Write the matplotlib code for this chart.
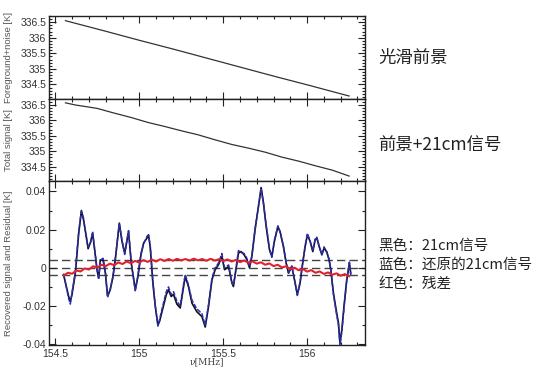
import matplotlib
matplotlib.use("Agg")
import matplotlib.pyplot as plt
from matplotlib.ticker import MultipleLocator

# ---------------- data ----------------
fg_freq = [154.56, 154.8, 155.0, 155.2, 155.4, 155.6, 155.8, 156.0, 156.25]
fg_vals = [336.55, 336.21, 335.92, 335.64, 335.35, 335.06, 334.77, 334.49, 334.13]

total_freq = [154.56, 154.62, 154.68, 154.75, 154.85, 154.95, 155.05, 155.15, 155.25,
              155.35, 155.45, 155.55, 155.65, 155.75, 155.85, 155.95, 156.05, 156.15, 156.25]
total_vals = [336.56, 336.49, 336.44, 336.38, 336.23, 336.09, 335.93, 335.80, 335.66,
              335.53, 335.37, 335.22, 335.10, 334.97, 334.81, 334.68, 334.53, 334.39, 334.20]

sig_freq = [154.549, 154.579, 154.589, 154.599, 154.619, 154.639, 154.655, 154.668, 154.685, 154.695,
            154.708, 154.722, 154.734, 154.748, 154.758, 154.768, 154.784, 154.798, 154.811, 154.827,
            154.843, 154.857, 154.881, 154.897, 154.913, 154.936, 154.952, 154.976, 154.992, 155.010,
            155.026, 155.046, 155.055, 155.065, 155.081, 155.095, 155.111, 155.121, 155.141, 155.161,
            155.174, 155.190, 155.204, 155.224, 155.244, 155.264, 155.274, 155.293, 155.314, 155.343,
            155.373, 155.393, 155.413, 155.433, 155.452, 155.472, 155.492, 155.508, 155.532, 155.552,
            155.561, 155.576, 155.591, 155.607, 155.625, 155.641, 155.657, 155.671, 155.690, 155.710,
            155.726, 155.740, 155.756, 155.776, 155.790, 155.805, 155.826, 155.839, 155.859, 155.875,
            155.889, 155.909, 155.929, 155.942, 155.958, 155.974, 155.988, 156.002, 156.018, 156.034,
            156.048, 156.058, 156.073, 156.088, 156.101, 156.117, 156.131, 156.141, 156.157, 156.173,
            156.187, 156.196, 156.207, 156.220, 156.236, 156.252, 156.260]
sig_vals = [-0.0037, -0.015, -0.0177, -0.014, -0.0028, 0.018, 0.030, 0.025, 0.016, 0.010,
            0.013, 0.018, 0.0094, -0.001, -0.0054, 0.0042, 0.0042, -0.0028, -0.0147, -0.0115,
            -0.0045, 0.0042, 0.0234, 0.0138, 0.0077, 0.019, 0.0025, -0.0115, -0.0045, 0.0068,
            0.013, 0.0156, 0.0173, 0.011, -0.008, -0.020, -0.030, -0.028, -0.021, -0.014,
            -0.0115, -0.015, -0.014, -0.019, -0.021, -0.0098, -0.0045, -0.0098, -0.0185, -0.023,
            -0.0255, -0.031, -0.020, -0.0063, -0.001, 0.0016, 0.006, -0.001, 0.0007, -0.008,
            -0.0098, -0.001, 0.0077, 0.0085, 0.0068, 0.0042, 0.0, 0.006, 0.020, 0.032,
            0.042, 0.034, 0.0216, 0.0094, 0.006, 0.0138, 0.0216, 0.019, 0.011, 0.0025,
            -0.0028, 0.0007, -0.008, -0.014, -0.008, 0.0025, 0.011, 0.0173, 0.0138, 0.0085,
            0.0147, 0.0156, 0.011, 0.0068, 0.0103, 0.0085, 0.0042, -0.001, -0.0133, -0.022,
            -0.029, -0.0395, -0.0325, -0.020, -0.0063, 0.0025, -0.0028]
rec_vals = [-0.0030, -0.0160, -0.0190, -0.0130, -0.0020, 0.0190, 0.0295, 0.0260, 0.0150, 0.0110,
            0.0125, 0.0190, 0.0100, -0.0005, -0.0060, 0.0040, 0.0050, -0.0020, -0.0155, -0.0110,
            -0.0050, 0.0050, 0.0230, 0.0145, 0.0070, 0.0195, 0.0030, -0.0120, -0.0040, 0.0075,
            0.0125, 0.0165, 0.0170, 0.0120, -0.0070, -0.0195, -0.0305, -0.0270, -0.0195, -0.0125,
            -0.0100, -0.0140, -0.0125, -0.0175, -0.0200, -0.0085, -0.0035, -0.0090, -0.0170, -0.0215,
            -0.0240, -0.0300, -0.0190, -0.0055, 0.0000, 0.0025, 0.0075, 0.0000, 0.0015, -0.0075,
            -0.0090, 0.0000, 0.0090, 0.0080, 0.0075, 0.0050, 0.0005, 0.0065, 0.0205, 0.0325,
            0.0415, 0.0335, 0.0225, 0.0100, 0.0055, 0.0145, 0.0220, 0.0185, 0.0115, 0.0030,
            -0.0025, 0.0010, -0.0085, -0.0145, -0.0075, 0.0030, 0.0115, 0.0180, 0.0140, 0.0090,
            0.0150, 0.0160, 0.0105, 0.0070, 0.0110, 0.0080, 0.0045, -0.0005, -0.0140, -0.0230,
            -0.0300, -0.0405, -0.0335, -0.0210, -0.0070, 0.0030, -0.0040]

res_freq = [154.550, 154.575, 154.600, 154.625, 154.650, 154.675, 154.700, 154.725, 154.750, 154.775,
            154.800, 154.825, 154.850, 154.875, 154.900, 154.925, 154.950, 154.975, 155.000, 155.025,
            155.050, 155.075, 155.100, 155.125, 155.150, 155.175, 155.200, 155.225, 155.250, 155.275,
            155.300, 155.325, 155.350, 155.375, 155.400, 155.425, 155.450, 155.475, 155.500, 155.525,
            155.550, 155.575, 155.600, 155.625, 155.650, 155.675, 155.700, 155.725, 155.750, 155.775,
            155.800, 155.825, 155.850, 155.875, 155.900, 155.925, 155.950, 155.975, 156.000, 156.025,
            156.050, 156.075, 156.100, 156.125, 156.150, 156.175, 156.200, 156.225, 156.250]
res_vals = [-0.0040, -0.0026, -0.0031, -0.0014, -0.0019, -0.0003, -0.0009, 0.0008, 0.0001, 0.0016,
            0.0009, 0.0022, 0.0014, 0.0028, 0.0020, 0.0033, 0.0024, 0.0036, 0.0028, 0.0040,
            0.0031, 0.0043, 0.0033, 0.0045, 0.0036, 0.0046, 0.0037, 0.0047, 0.0039, 0.0046,
            0.0038, 0.0048, 0.0039, 0.0046, 0.0037, 0.0047, 0.0038, 0.0045, 0.0035, 0.0044,
            0.0033, 0.0041, 0.0030, 0.0038, 0.0027, 0.0034, 0.0022, 0.0029, 0.0016, 0.0023,
            0.0009, 0.0016, 0.0002, 0.0008, -0.0006, 0.0001, -0.0013, -0.0006, -0.0020, -0.0012,
            -0.0026, -0.0019, -0.0032, -0.0024, -0.0036, -0.0029, -0.0041, -0.0033, -0.0044]

ref_levels = [0.004, 0.0, -0.004]

top_yticks = [334.5, 335, 335.5, 336, 336.5]
top_yticklabels = ["334.5", "335", "335.5", "336", "336.5"]
bot_yticks = [-0.04, -0.02, 0, 0.02, 0.04]
bot_yticklabels = ["-0.04", "-0.02", "0", "0.02", "0.04"]
xticks = [154.5, 155, 155.5, 156]
xticklabels = ["154.5", "155", "155.5", "156"]

notes_top = ["光滑前景", "前景+21cm信号"]
notes_bottom = ["黑色：21cm信号", "蓝色：还原的21cm信号", "红色：残差"]

# ---------------- figure ----------------
W, H = 553, 379
fig = plt.figure(figsize=(W / 100, H / 100), dpi=100)
fig.patch.set_facecolor("white")

def fx(px):
    return px / W

def fy(py):
    return 1 - py / H

left, right = 49, 365
rows = [(16, 98.5), (98.5, 180.7), (180.7, 345)]
axes = []
for (t, b) in rows:
    ax = fig.add_axes([fx(left), fy(b), fx(right) - fx(left), fy(t) - fy(b)])
    axes.append(ax)

tick_font = dict(family="Liberation Sans", size=7.5, color="#333333")
label_font = dict(family="Liberation Sans", size=6.8, color="#555555")

for ax in axes:
    ax.set_xlim(154.462, 156.345)
    ax.xaxis.set_major_locator(MultipleLocator(0.5))
    ax.xaxis.set_minor_locator(MultipleLocator(0.1))
    ax.tick_params(which="both", direction="in", top=True, right=True, width=0.8, color="#222222")
    ax.tick_params(which="major", length=5)
    ax.tick_params(which="minor", length=2.5)
    for s in ax.spines.values():
        s.set_linewidth(1.0)
        s.set_color("#222222")

for ax in axes[:2]:
    ax.set_ylim(334.05, 336.7)
    ax.set_yticks(top_yticks)
    ax.set_yticklabels(top_yticklabels, **tick_font)
    ax.yaxis.set_minor_locator(MultipleLocator(0.1))
    ax.set_xticks(xticks)
    ax.set_xticklabels([])
    ax.tick_params(axis="y", pad=2)

axes[0].plot(fg_freq, fg_vals, color="#333333", lw=0.9)
axes[1].plot(total_freq, total_vals, color="#333333", lw=0.9)

ax = axes[2]
ax.set_ylim(-0.0404, 0.0456)
ax.set_yticks(bot_yticks)
ax.set_yticklabels(bot_yticklabels, **tick_font)
ax.yaxis.set_minor_locator(MultipleLocator(0.01))
ax.set_xticks(xticks)
ax.set_xticklabels(xticklabels, **tick_font)
ax.tick_params(axis="y", pad=2)
ax.tick_params(axis="x", pad=3)

for lvl in ref_levels:
    ax.axhline(lvl, color="#444444", lw=1.0, ls=(0, (6, 3)), zorder=1)
ax.plot(sig_freq, sig_vals, color="#111111", lw=1.2, zorder=2)
ax.plot(sig_freq, rec_vals, color="#2c2cb4", lw=1.1, ls=(0, (3, 1)), zorder=3)
ax.plot(res_freq, res_vals, color="#e3202c", lw=1.5, zorder=4)

ylabels = ["Foreground+noise [K]", "Total signal [K]", "Recovered signal and Residual [K]"]
for a, lab in zip(axes, ylabels):
    a.set_ylabel(lab, **label_font)
    a.yaxis.set_label_coords((13 - left) / (right - left), 0.5)

fig.text(fx(207), fy(362), "ν[MHz]", ha="center", va="center",
         family="DejaVu Serif", size=6.5, color="#444444")

cjk = ["Noto Sans CJK SC", "DejaVu Sans"]
fig.text(fx(378), fy(58), notes_top[0], ha="left", va="center", family=cjk, size=12.5, color="#222222")
fig.text(fx(378), fy(145), notes_top[1], ha="left", va="center", family=cjk, size=12.5, color="#222222")
for i, s in enumerate(notes_bottom):
    fig.text(fx(378), fy(246 + 19 * i), s, ha="left", va="center", family=cjk, size=10.5, color="#222222")

fig.savefig("out.png", dpi=100)
